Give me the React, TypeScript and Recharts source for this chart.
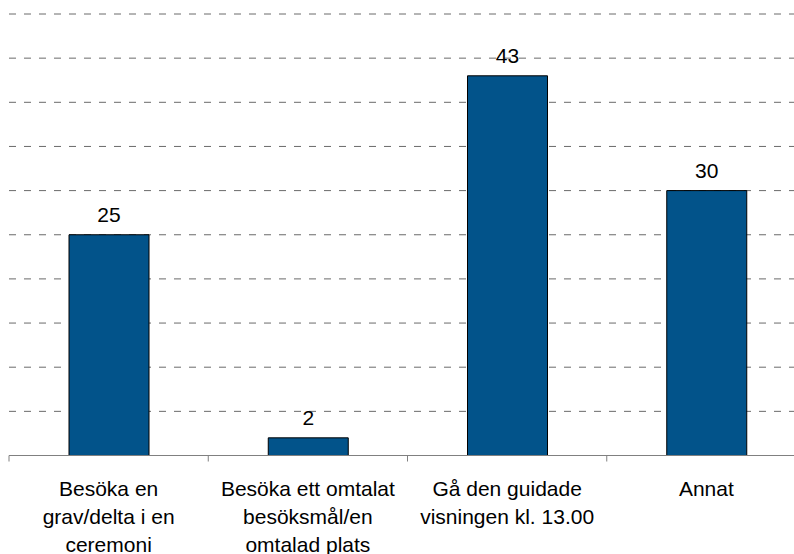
import { BarChart, Bar, XAxis, YAxis, CartesianGrid, LabelList } from 'recharts';

const categories = [
  'Besöka en\ngrav/delta i en\nceremoni',
  'Besöka ett omtalat\nbesöksmål/en\nomtalad plats',
  'Gå den guidade\nvisningen kl. 13.00',
  'Annat',
];
const values = [25, 2, 43, 30];
const yTicks = [0, 5, 10, 15, 20, 25, 30, 35, 40, 45, 50];

const data = categories.map((name, i) => ({ name, value: values[i] }));

const FONT = '"Liberation Sans", Arial, sans-serif';

// Category label with the tick mark drawn at the left edge of each band
const CategoryTick = ({
  x,
  y,
  payload,
}: {
  x?: number;
  y?: number;
  payload?: { value: string; offset?: number };
}) => {
  const cx = Number(x ?? 0);
  const cy = Number(y ?? 0);
  const half = payload?.offset ?? 0;
  const lines = String(payload?.value ?? '').split('\n');
  return (
    <g>
      <line x1={cx - half} x2={cx - half} y1={cy} y2={cy + 6} stroke="#808080" strokeWidth={1} />
      <text x={cx} y={cy} textAnchor="middle" fontFamily={FONT} fontSize={21} fill="#000">
        {lines.map((line, i) => (
          <tspan key={i} x={cx} dy={i === 0 ? 40 : 28}>
            {line}
          </tspan>
        ))}
      </text>
    </g>
  );
};

export default function App() {
  return (
    <div
      style={{
        position: 'fixed',
        top: 0,
        left: 0,
        width: 794,
        height: 554,
        overflow: 'hidden',
        background: '#fff',
      }}
    >
      <BarChart
        width={810}
        height={554}
        data={data}
        margin={{ top: 14, right: 4, left: 9, bottom: 0 }}
        barSize={80}
        style={{ overflow: 'visible' }}
      >
        <CartesianGrid vertical={false} stroke="#6a6a6a" strokeDasharray="7 8" />
        <YAxis hide domain={[0, 50]} ticks={yTicks} />
        <XAxis
          dataKey="name"
          height={98.5}
          axisLine={{ stroke: '#808080' }}
          tickLine={false}
          tickSize={0}
          tickMargin={0}
          interval={0}
          tick={<CategoryTick />}
        />
        <Bar dataKey="value" fill="#02538A" stroke="#000" strokeWidth={1} isAnimationActive={false}>
          <LabelList dataKey="value" position="top" offset={13} fontFamily={FONT} fontSize={21} fill="#000" />
        </Bar>
      </BarChart>
    </div>
  );
}
